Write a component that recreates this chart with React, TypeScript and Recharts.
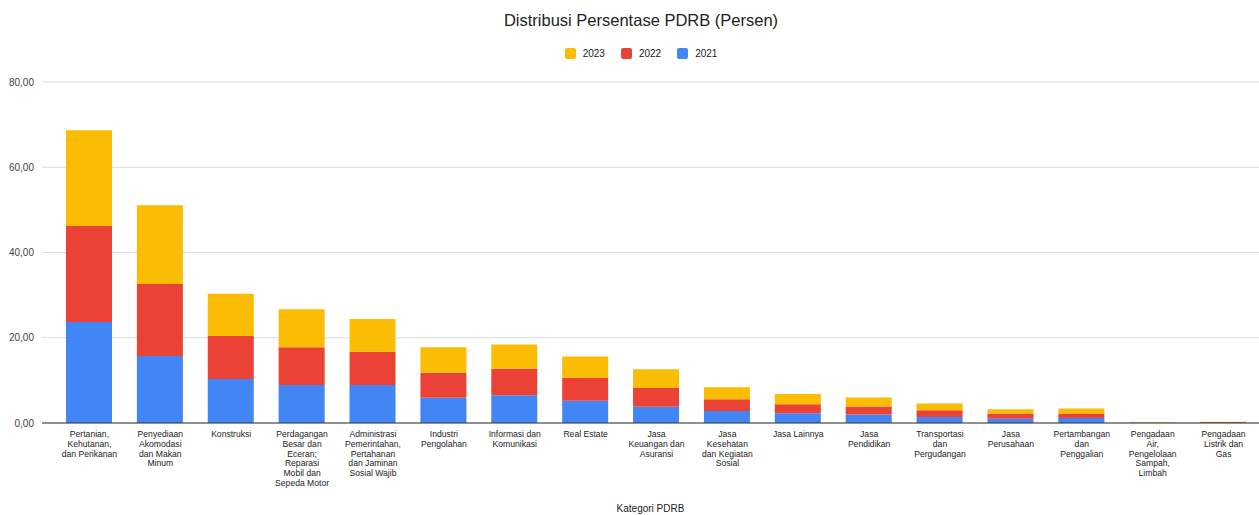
import React from 'react';
import { BarChart, Bar, XAxis, YAxis, CartesianGrid } from 'recharts';

const tickLines: string[][] = [
  ['Pertanian,', 'Kehutanan,', 'dan Perikanan'],
  ['Penyediaan', 'Akomodasi', 'dan Makan', 'Minum'],
  ['Konstruksi'],
  ['Perdagangan', 'Besar dan', 'Eceran;', 'Reparasi', 'Mobil dan', 'Sepeda Motor'],
  ['Administrasi', 'Pemerintahan,', 'Pertahanan', 'dan Jaminan', 'Sosial Wajib'],
  ['Industri', 'Pengolahan'],
  ['Informasi dan', 'Komunikasi'],
  ['Real Estate'],
  ['Jasa', 'Keuangan dan', 'Asuransi'],
  ['Jasa', 'Kesehatan', 'dan Kegiatan', 'Sosial'],
  ['Jasa Lainnya'],
  ['Jasa', 'Pendidikan'],
  ['Transportasi', 'dan', 'Pergudangan'],
  ['Jasa', 'Perusahaan'],
  ['Pertambangan', 'dan', 'Penggalian'],
  ['Pengadaan', 'Air,', 'Pengelolaan', 'Sampah,', 'Limbah'],
  ['Pengadaan', 'Listrik dan', 'Gas'],
];

const categories = tickLines.map((l) => l.join(' '));

const values2021 = [23.7, 15.7, 10.3, 8.9, 8.9, 5.9, 6.5, 5.2, 3.8, 2.8, 2.3, 2.0, 1.4, 1.0, 1.2, 0.07, 0.05];
const values2022 = [22.5, 16.9, 10.1, 8.9, 7.8, 5.9, 6.2, 5.4, 4.4, 2.8, 2.1, 1.9, 1.6, 1.2, 1.0, 0.07, 0.2];
const values2023 = [22.5, 18.5, 9.9, 8.9, 7.7, 6.0, 5.7, 5.0, 4.4, 2.8, 2.4, 2.1, 1.6, 1.0, 1.2, 0.07, 0.05];

const yTicks = [0, 20, 40, 60, 80];

const legendItems = [
  { label: '2023', color: '#fbbc04' },
  { label: '2022', color: '#ea4335' },
  { label: '2021', color: '#4285f4' },
];

const data = categories.map((name, i) => ({
  name,
  y2021: values2021[i],
  y2022: values2022[i],
  y2023: values2023[i],
}));

const FONT = '"Liberation Sans", Arial, sans-serif';

const XTick = (props: any) => {
  const { x, y, payload } = props;
  const lines = tickLines[payload.index] || [payload.value];
  return (
    <text x={x} y={y} textAnchor="middle" fill="#222" fontSize={8.6} fontFamily={FONT}>
      {lines.map((line, i) => (
        <tspan key={i} x={x} dy={i === 0 ? '0.71em' : 9.7}>
          {line}
        </tspan>
      ))}
    </text>
  );
};

export default function App() {
  return (
    <div style={{ position: 'absolute', left: 0, top: 0, width: 1259, height: 515, background: '#fff', fontFamily: FONT }}>
      <div style={{ position: 'absolute', top: 11, left: 0, width: 1282, textAlign: 'center', fontSize: 16.5, color: '#222' }}>
        Distribusi Persentase PDRB (Persen)
      </div>
      <div style={{ position: 'absolute', top: 48, left: 0, width: 1298, display: 'flex', justifyContent: 'center', fontSize: 10, color: '#222' }}>
        {legendItems.map((it) => (
          <div key={it.label} style={{ display: 'flex', alignItems: 'center', marginRight: 16 }}>
            <span style={{ width: 11, height: 11, borderRadius: 2, background: it.color, display: 'inline-block', marginRight: 7 }} />
            <span>{it.label}</span>
          </div>
        ))}
      </div>
      <BarChart width={1259} height={515} data={data} margin={{ top: 82, right: 0, left: 0, bottom: 0 }} barSize={46}>
        <CartesianGrid vertical={false} stroke="#dddddd" />
        <XAxis
          dataKey="name"
          interval={0}
          tick={<XTick />}
          tickLine={false}
          axisLine={{ stroke: '#333', strokeWidth: 1 }}
          height={92}
          padding={{ left: 12, right: 0 }}
          label={{ value: 'Kategori PDRB', position: 'insideBottom', offset: 3, fill: '#222', fontSize: 10, fontFamily: FONT }}
        />
        <YAxis
          domain={[0, 80]}
          ticks={yTicks}
          width={42}
          tickLine={false}
          axisLine={false}
          tick={{ fill: '#444', fontSize: 10, fontFamily: FONT }}
          tickFormatter={(v: number) => v.toFixed(2).replace('.', ',')}
        />
        <Bar dataKey="y2021" name="2021" stackId="a" fill="#4285f4" isAnimationActive={false} />
        <Bar dataKey="y2022" name="2022" stackId="a" fill="#ea4335" isAnimationActive={false} />
        <Bar dataKey="y2023" name="2023" stackId="a" fill="#fbbc04" isAnimationActive={false} />
      </BarChart>
    </div>
  );
}
